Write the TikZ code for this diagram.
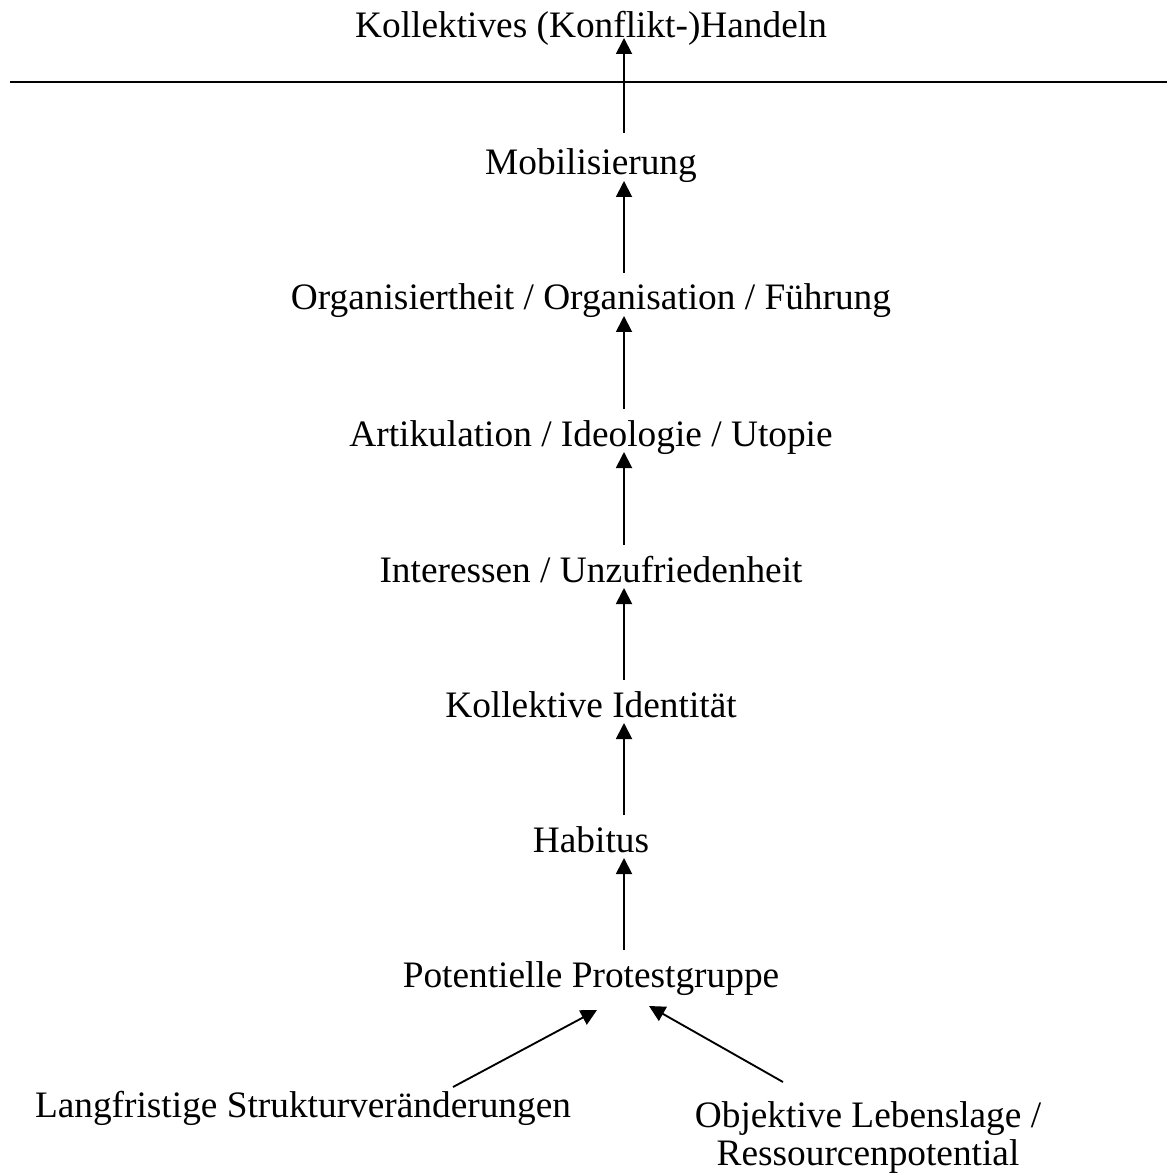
\documentclass[tikz,border=0pt]{standalone}
\usepackage{fontspec}
\setmainfont{Liberation Serif}
\usetikzlibrary{arrows.meta,calc}

\tikzset{
  stufe/.style={anchor=base, inner sep=0pt, font=\fontsize{28}{28.5}\selectfont},
  pfeil/.style={-{Triangle[length=12pt,width=12pt]}, line width=1.4pt},
}

\begin{document}
\begin{tikzpicture}[x=0.75pt,y=-0.75pt,line width=1.4pt]
\useasboundingbox (0,0) rectangle (1167,1176);
% Stufen von oben nach unten
\node[stufe] (kh)    at (591,38)  {Kollektives (Konflikt-)Handeln};
\node[stufe] (mob)   at (591,175) {Mobilisierung};
\node[stufe] (org)   at (591,310) {Organisiertheit / Organisation / Führung};
\node[stufe] (art)   at (591,446) {Artikulation / Ideologie / Utopie};
\node[stufe] (int)   at (591,582) {Interessen / Unzufriedenheit};
\node[stufe] (ident) at (591,717) {Kollektive Identität};
\node[stufe] (hab)   at (591,852) {Habitus};
\node[stufe] (pot)   at (591,987) {Potentielle Protestgruppe};
% Ausgangsbedingungen
\node[stufe] (lang)  at (303,1117) {Langfristige Strukturveränderungen};
\node[stufe, align=center] (obj) at (868,1165) {Objektive Lebenslage /\\Ressourcenpotential};
% Trennlinie
\draw (10,82) -- (1167,82);
% Pfeile
\draw[pfeil] ($(mob.base)+(33,-42)$) -- ($(kh.base)+(33,0)$);
\foreach \u/\o in {org/mob, art/org, int/art, ident/int, hab/ident, pot/hab}
  \draw[pfeil] ($(\u.base)+(33,-37)$) -- ($(\o.base)+(33,6)$);
\draw[pfeil] ($(lang.base)+(150,-30)$) -- ($(pot.base)+(6,23)$);
\draw[pfeil] ($(obj.base)+(-85,-83)$) -- ($(pot.base)+(58,19)$);
\end{tikzpicture}
\end{document}
